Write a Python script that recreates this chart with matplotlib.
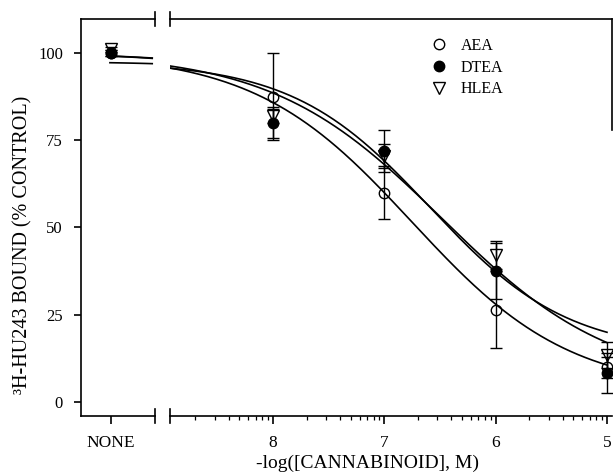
import numpy as np
import matplotlib
matplotlib.use("Agg")
import matplotlib.pyplot as plt
from matplotlib.lines import Line2D
from matplotlib.ticker import FixedLocator, NullFormatter

plt.rcParams['font.family'] = ['Liberation Serif', 'DejaVu Serif']

# ---- data -------------------------------------------------------------
series = ["AEA", "DTEA", "HLEA"]
p_conc = [8, 7, 6, 5]                       # -log[cannabinoid], M
aea_mean = [87.5, 60.0, 26.5, 10.0]
aea_err = [12.5, 7.5, 11.0, 3.0]
dtea_mean = [80.0, 72.0, 37.5, 8.3]
dtea_err = [4.5, 6.0, 8.0, 5.7]
hlea_mean = [82.0, 70.5, 42.0, 13.5]
hlea_err = [2.0, 3.5, 4.0, 3.7]
none_mean = [100.0, 100.0, 101.0]           # AEA, DTEA, HLEA without drug
none_err = [0.8, 0.8, 0.8]

# four-parameter logistic fits: top, bottom, pIC50, Hill slope
fit_top = [100.0, 100.0, 97.5]
fit_bottom = [3.0, 5.0, 14.0]
fit_pic50 = [6.75, 6.48, 6.59]
fit_hill = [0.612, 0.567, 0.70]

y_ticks = [0, 25, 50, 75, 100]
x_ticks = [8, 7, 6, 5]
x_ticklabels = ["8", "7", "6", "5"]
none_label = "NONE"

means = [aea_mean, dtea_mean, hlea_mean]
errs = [aea_err, dtea_err, hlea_err]

styles = [
    dict(marker='o', mfc='none', mec='k', ms=7.5, mew=1.0),
    dict(marker='o', mfc='k', mec='k', ms=7.5, mew=1.0),
    dict(marker='v', mfc='none', mec='k', ms=9, mew=1.0),
]


def logistic(p, top, bottom, pic50, hill):
    return bottom + (top - bottom) / (1.0 + 10.0 ** ((pic50 - p) * hill))


# ---- layout (pixel geometry of a 614 x 472 canvas) ----------------------
W, H = 614, 472
fig = plt.figure(figsize=(W / 100, H / 100), dpi=100)


def fx(px):
    return px / W


def fy(py):
    return 1 - py / H


Y_TOP, Y_BOT = 19, 416
L0, L1, R0, R1 = 81, 155, 170, 612
ax_l = fig.add_axes([fx(L0), fy(Y_BOT), fx(L1) - fx(L0), fy(Y_TOP) - fy(Y_BOT)])
ax_r = fig.add_axes([fx(R0), fy(Y_BOT), fx(R1) - fx(R0), fy(Y_TOP) - fy(Y_BOT)])

YLIM = (-4.0, 109.7)
NONE_P = 10.03
for ax in (ax_l, ax_r):
    ax.set_ylim(*YLIM)
    ax.patch.set_visible(False)
    for s in ax.spines.values():
        s.set_linewidth(1.2)
ax_l.set_xlim(10.3, 9.635)
ax_r.set_xlim(8.925, 4.955)

ax_l.spines['right'].set_visible(False)
ax_r.spines['left'].set_visible(False)
ax_r.spines['right'].set_visible(False)

# y axis
ax_l.set_yticks(y_ticks)
ax_l.set_yticklabels([str(v) for v in y_ticks])
ax_l.tick_params(axis='y', direction='out', length=5, width=1.2, pad=8, labelsize=12)
ax_r.tick_params(axis='y', left=False, labelleft=False)

# x axis: NONE on the left piece, log-spaced ticks on the right piece
ax_l.set_xticks([NONE_P])
ax_l.set_xticklabels([none_label])
ax_l.tick_params(axis='x', direction='out', length=6, width=1.2, pad=8, labelsize=12.5)

ax_r.set_xticks(x_ticks)
ax_r.set_xticklabels(x_ticklabels)
minor = [d - np.log10(k) for d in (9, 8, 7, 6) for k in range(2, 10)]
ax_r.xaxis.set_minor_locator(FixedLocator(minor))
ax_r.xaxis.set_minor_formatter(NullFormatter())
ax_r.tick_params(axis='x', which='major', direction='out', length=6, width=1.2,
                 pad=8, labelsize=12.5)
ax_r.tick_params(axis='x', which='minor', direction='out', length=3, width=0.9)

# fitted curves
p_left = np.linspace(10.04, 9.66, 40)
p_right = np.linspace(8.925, 5.0, 300)
for i in range(3):
    args = (fit_top[i], fit_bottom[i], fit_pic50[i], fit_hill[i])
    ax_l.plot(p_left, logistic(p_left, *args), color='k', lw=1.2, zorder=2)
    ax_r.plot(p_right, logistic(p_right, *args), color='k', lw=1.2, zorder=2)

# data points with error bars
for i in range(3):
    ax_r.errorbar(p_conc, means[i], yerr=errs[i], linestyle='none', ecolor='k',
                  elinewidth=1.0, capsize=4, capthick=1.0, zorder=3, **styles[i])
    ax_l.errorbar([NONE_P], [none_mean[i]], yerr=[none_err[i]], linestyle='none',
                  ecolor='k', elinewidth=1.0, capsize=4, capthick=1.0, zorder=3,
                  **styles[i])

# axis break marks and the short right-hand frame segment
def seg(x0, y0, x1, y1, lw=1.2):
    fig.add_artist(Line2D([fx(x0), fx(x1)], [fy(y0), fy(y1)],
                          transform=fig.transFigure, color='k', lw=lw))


for xb in (L1, R0):
    seg(xb, Y_TOP - 7, xb, Y_TOP + 7)
    seg(xb, Y_BOT - 7, xb, Y_BOT + 7)
seg(R1, Y_TOP, R1, 130)

# legend
handles = [Line2D([], [], linestyle='none', **s) for s in styles]
fig.legend(handles, series, loc='upper left', bbox_to_anchor=(fx(431), fy(38)),
           frameon=False, borderpad=0, borderaxespad=0, handlelength=1.0,
           handletextpad=0.85, labelspacing=0.35, fontsize=11.5)

# axis titles
fig.text(fx(23), fy(245), "³H-HU243 BOUND (% CONTROL)", rotation=90,
         ha='center', va='center', fontsize=14.5)
fig.text(fx(368), fy(472), "-log([CANNABINOID], M)", ha='center', va='bottom',
         fontsize=14)

fig.savefig("out.png", dpi=100)
